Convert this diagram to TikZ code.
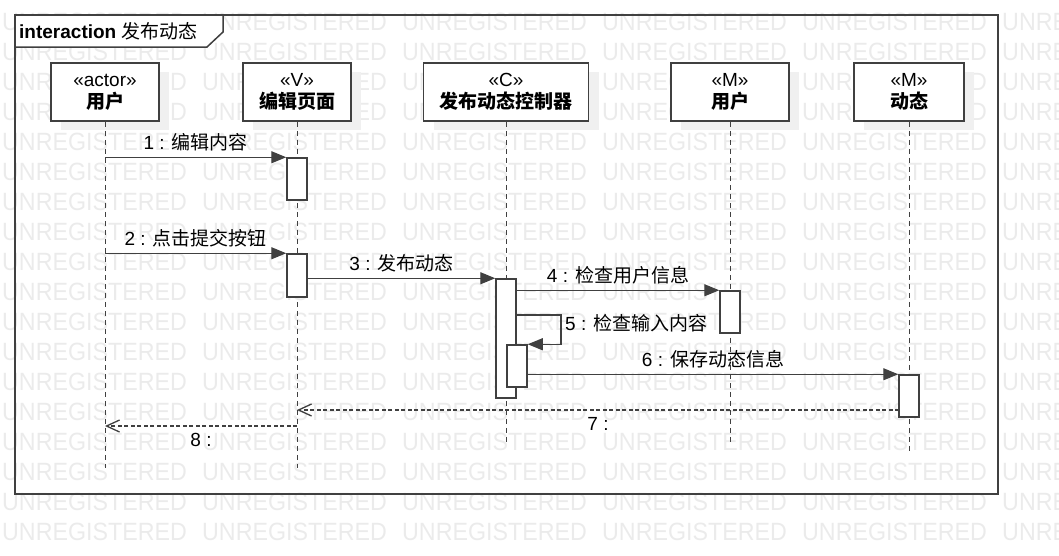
\documentclass[tikz,border=0pt]{standalone}
\usepackage{fontspec}
\setmainfont{Liberation Sans}
\newfontfamily\cjk{Noto Sans CJK SC}
\usetikzlibrary{arrows.meta,shadows}
\definecolor{ln}{HTML}{404040}
\newcommand{\wmark}{\scalebox{0.93}[1]{UNREGISTERED}}

\begin{document}
\begin{tikzpicture}[x=1pt, y=-1pt,
    font=\fontsize{19}{22}\selectfont,
    wm/.style={anchor=base west, inner sep=0, text=black!8, font=\fontsize{25}{25}\selectfont},
    head/.style={rectangle, draw=ln, line width=1.5pt, fill=white, minimum height=58pt, align=center, inner sep=0,
        drop shadow={shadow xshift=10pt, shadow yshift=-9pt, fill=black!6, opacity=1}},
    act/.style={rectangle, draw=ln, line width=1.5pt, fill=white, minimum width=20pt, inner sep=0},
    lifeline/.style={draw=ln, line width=1pt, dash pattern=on 5pt off 4pt},
    msg/.style={draw=ln, line width=1.3pt, -{Triangle[length=15pt,width=12pt]}},
    ret/.style={draw=ln, line width=1.3pt, dash pattern=on 4pt off 2.5pt, -{Straight Barb[length=13pt,width=12pt]}},
    lbl/.style={yshift=15pt, inner sep=0},
    rlbl/.style={yshift=-14pt, inner sep=0}]

    \useasboundingbox (0,0) rectangle (1059,555);

    % watermark
    \begin{scope}
        \clip (0,0) rectangle (1059,555);
        \foreach \r in {0,...,17}
            \foreach \c in {0,...,5}
                \node[wm] at (\c*200+2, 30+\r*30) {\wmark};
    \end{scope}

    % interaction frame
    \draw[ln, line width=2pt] (15,15) rectangle (998,494);
    \draw[ln, line width=1.5pt, fill=white] (15,15) -- (223,15) -- (223,32) -- (207,47) -- (15,47) -- cycle;
    \node[anchor=west, inner sep=0] (title) at (19,31) {\textbf{interaction} \cjk 发布动态};

    % lifeline heads
    \node[head, minimum width=108pt] (user) at (105,92) {«actor»\\{\bfseries\cjk 用户}};
    \node[head, minimum width=108pt] (editor) at (297,92) {«V»\\{\bfseries\cjk 编辑页面}};
    \node[head, minimum width=165pt] (ctrl) at (506,92) {«C»\\{\bfseries\cjk 发布动态控制器}};
    \node[head, minimum width=118pt] (muser) at (730,92) {«M»\\{\bfseries\cjk 用户}};
    \node[head, minimum width=110pt] (dyn) at (909,92) {«M»\\{\bfseries\cjk 动态}};

    % lifelines
    \coordinate (user-end) at (105,468);
    \coordinate (editor-end) at (297,468);
    \coordinate (ctrl-end) at (506,442);
    \coordinate (muser-end) at (730,442);
    \coordinate (dyn-end) at (909,452);
    \draw[lifeline] (user) -- (user-end);
    \draw[lifeline] (editor) -- (editor-end);
    \draw[lifeline] (ctrl) -- (ctrl-end);
    \draw[lifeline] (muser) -- (muser-end);
    \draw[lifeline] (dyn) -- (dyn-end);

    % activations
    \node[act, minimum height=42pt] (ea1) at (297,179) {};
    \node[act, minimum height=43pt] (ea2) at (297,275.5) {};
    \node[act, minimum height=119pt] (ca1) at (506,338.5) {};
    \node[act, minimum height=42pt] (ca2) at (517,366) {};
    \node[act, minimum height=42pt] (ma1) at (730,312) {};
    \node[act, minimum height=42pt] (da1) at (909,396) {};

    % messages
    \draw[msg] (user |- ea1.north west) -- node[lbl] {1 : \cjk 编辑内容} (ea1.north west);
    \draw[msg] (user |- ea2.north west) -- node[lbl] {2 : \cjk 点击提交按钮} (ea2.north west);
    \draw[msg] (ea2.east |- ca1.north) -- node[lbl] {3 : \cjk 发布动态} (ca1.north west);
    \draw[msg] (ca1.east |- ma1.north) -- node[lbl] {4 : \cjk 检查用户信息} (ma1.north west);
    \coordinate (self) at (561,315);
    \draw[msg] (ca1.east |- self) -- (self) |- (ca2.north east);
    \node[anchor=west, inner sep=0] (self-lbl) at (565,323) {5 : \cjk 检查输入内容};
    \draw[msg] (ca2.east |- da1.north) -- node[lbl] {6 : \cjk 保存动态信息} (da1.north west);

    % returns
    \coordinate (r7) at (899,410);
    \coordinate (r8) at (297,426);
    \draw[ret] (r7) -- node[rlbl] {7 :} (editor |- r7);
    \draw[ret] (r8) -- node[rlbl] {8 :} (user |- r8);
\end{tikzpicture}
\end{document}
